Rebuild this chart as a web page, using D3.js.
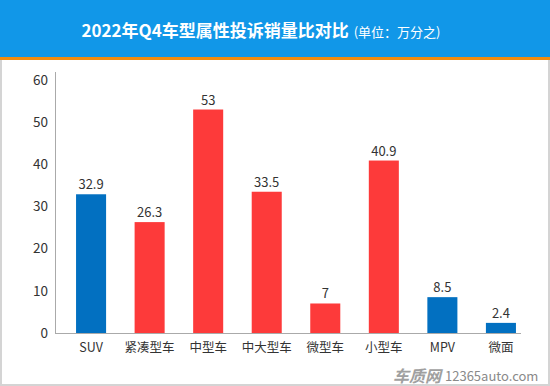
<!doctype html>
<html>
<head>
    <meta charset="utf-8">
    <title>2022年Q4车型属性投诉销量比对比</title>
    <script src="https://d3js.org/d3.v7.min.js"></script>
    <style>
        body { margin: 0; background: #fff; }
        svg { display: block; font-family: "Noto Sans CJK SC", "Noto Sans", sans-serif; }
    </style>
</head>
<body>
<svg width="550" height="386"></svg>
<script>
    // chart data
    var categories = ["SUV", "紧凑型车", "中型车", "中大型车", "微型车", "小型车", "MPV", "微面"];
    var values = [32.9, 26.3, 53, 33.5, 7, 40.9, 8.5, 2.4];
    var kinds = ["其他", "轿车", "轿车", "轿车", "轿车", "轿车", "其他", "其他"];
    var yTicks = [0, 10, 20, 30, 40, 50, 60];

    var svg = d3.select("svg");
    var W = 550, H = 386;

    // header
    svg.append("rect").attr("x", 0).attr("y", 0).attr("width", W).attr("height", 58).attr("fill", "#1197E8");
    svg.append("rect").attr("x", 0).attr("y", 57).attr("width", W).attr("height", 3).attr("fill", "#F28C0F");

    var title = svg.append("text")
        .attr("x", 261).attr("y", 37)
        .attr("text-anchor", "middle")
        .attr("fill", "#fff");
    title.append("tspan").attr("font-size", 17).attr("font-weight", "bold").text("2022年Q4车型属性投诉销量比对比");
    title.append("tspan").attr("font-size", 13).attr("dx", 5).text("(单位：万分之)");

    // frame
    svg.append("path")
        .attr("d", "M1,60 V385 H549 V60")
        .attr("fill", "none").attr("stroke", "#d4d4d4").attr("stroke-width", 2);

    var x = d3.scaleBand().domain(categories).range([62, 530]).paddingInner(0.487).paddingOuter(0.24);
    var y = d3.scaleLinear().domain([0, 60]).range([333, 80]);
    var color = d3.scaleOrdinal().domain(["其他", "轿车"]).range(["#0270C1", "#FD3A3A"]);

    var data = categories.map(function(c, i) { return {name: c, value: values[i], kind: kinds[i]}; });

    // axes
    var yAxis = svg.append("g")
        .attr("transform", "translate(55,0)")
        .call(d3.axisLeft(y).tickValues(yTicks).tickSize(0).tickPadding(7));
    yAxis.select(".domain").remove();
    yAxis.selectAll("text").attr("font-size", 13.5).attr("fill", "#333")
        .attr("font-family", "\"Noto Sans CJK SC\", sans-serif");

    svg.append("line").attr("x1", 55.5).attr("x2", 55.5).attr("y1", 72).attr("y2", 333.5)
        .attr("stroke", "#aaa").attr("stroke-width", 1);
    svg.append("line").attr("x1", 55).attr("x2", 521).attr("y1", 333.5).attr("y2", 333.5)
        .attr("stroke", "#aaa").attr("stroke-width", 1);

    var xAxis = svg.append("g")
        .attr("transform", "translate(0,334)")
        .call(d3.axisBottom(x).tickSize(0).tickPadding(9));
    xAxis.select(".domain").remove();
    xAxis.selectAll("text").attr("font-size", 12.5).attr("fill", "#333")
        .attr("font-family", "\"Noto Sans CJK SC\", sans-serif");

    // bars
    svg.selectAll(".bar")
        .data(data)
        .enter().append("rect")
        .attr("class", "bar")
        .attr("x", function(d) { return x(d.name); })
        .attr("y", function(d) { return y(d.value); })
        .attr("width", x.bandwidth())
        .attr("height", function(d) { return y(0) - y(d.value); })
        .attr("fill", function(d) { return color(d.kind); });

    svg.selectAll(".val")
        .data(data)
        .enter().append("text")
        .attr("class", "val")
        .attr("x", function(d) { return x(d.name) + x.bandwidth() / 2; })
        .attr("y", function(d) { return y(d.value) - 5; })
        .attr("text-anchor", "middle")
        .attr("font-size", 13)
        .attr("fill", "#333")
        .text(function(d) { return d.value; });

    // watermark
    svg.append("text").attr("x", 393).attr("y", 382)
        .attr("font-size", 16).attr("font-weight", "bold").attr("font-style", "italic")
        .attr("fill", "#a0a0a0").text("车质网");
    svg.append("text").attr("x", 445).attr("y", 381)
        .attr("font-size", 13).attr("fill", "#8a8a8a").text("12365auto.com");
</script>
</body>
</html>
